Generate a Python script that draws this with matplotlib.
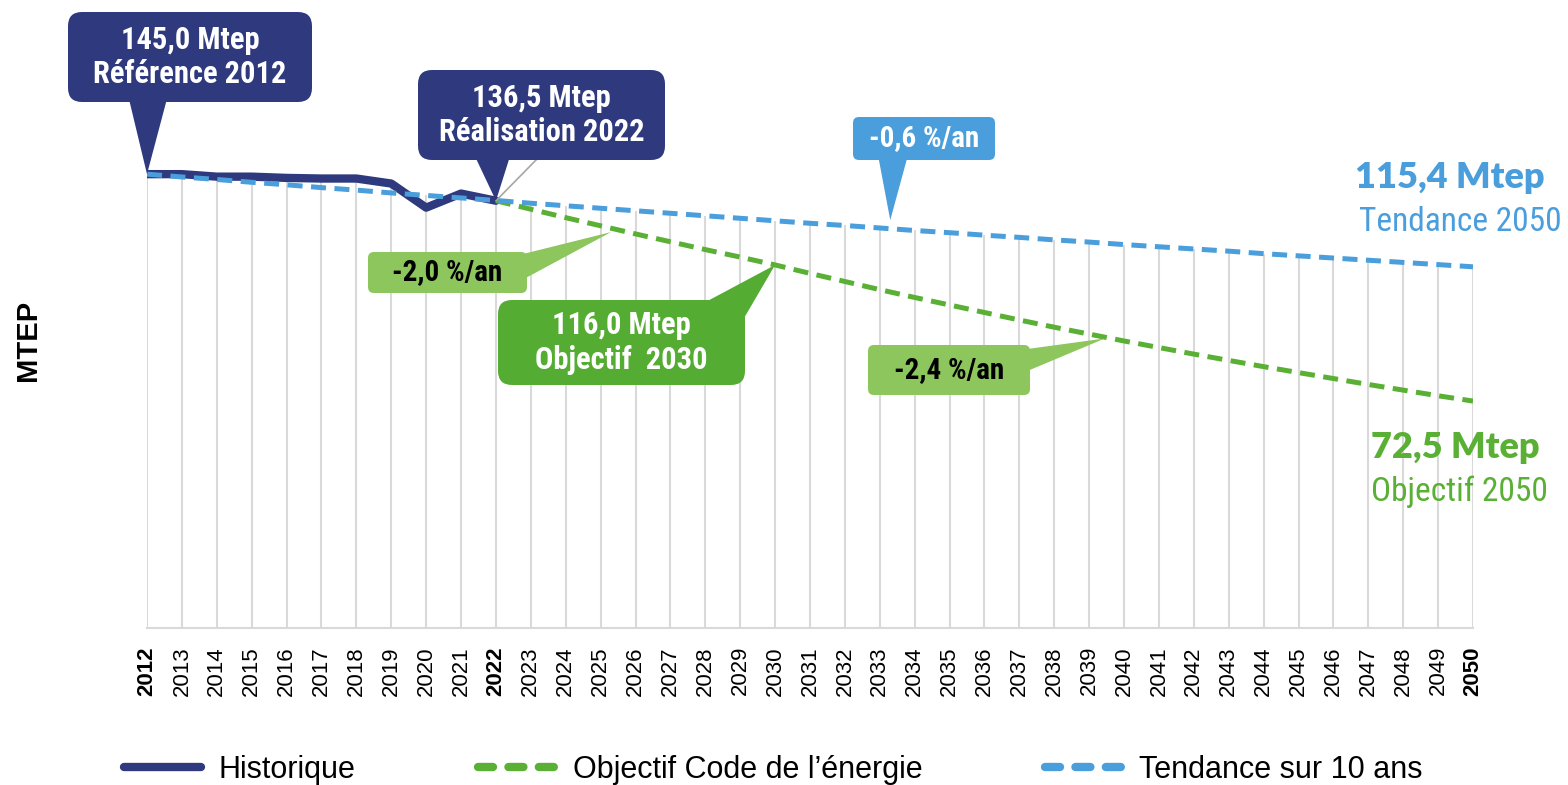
import matplotlib
matplotlib.use('Agg')
import matplotlib.pyplot as plt
from matplotlib.patches import FancyBboxPatch, Polygon
from matplotlib.lines import Line2D
from matplotlib.transforms import IdentityTransform
from matplotlib import font_manager

# data (Mtep)
years = list(range(2012, 2051))
hist_years = list(range(2012, 2023))
hist_vals = [145.0, 145.0, 144.2, 144.2, 143.8, 143.6, 143.6, 142.0, 134.3, 138.8, 136.5]
trend_vals = [145.0, 144.1, 143.3, 142.4, 141.6, 140.7, 139.9, 139.0, 138.2, 137.4,
              136.6, 135.7, 134.9, 134.1, 133.3, 132.5, 131.7, 130.9, 130.1, 129.3,
              128.6, 127.8, 127.0, 126.3, 125.5, 124.8, 124.0, 123.3, 122.5, 121.8,
              121.1, 120.4, 119.6, 118.9, 118.2, 117.5, 116.8, 116.1, 115.4]
obj_years = list(range(2022, 2051))
obj_vals = [136.5, 133.8, 131.1, 128.5, 125.9, 123.4, 120.9, 118.5, 116.0, 113.3,
            110.7, 108.1, 105.6, 103.2, 100.8, 98.4, 96.1, 93.9, 91.7, 89.6,
            87.5, 85.5, 83.5, 81.6, 79.7, 77.8, 76.0, 74.2, 72.5]
bold_years = [2012, 2022, 2050]
legend_labels = ['Historique', 'Objectif Code de l\u2019énergie', 'Tendance sur 10 ans']

NAVY = '#2E3A7D'
BLUE = '#4A9EDB'
GREEN = '#5AB034'
LGREEN = '#8CC65C'
DGREEN = '#55AC33'
GRID = '#D9D9D9'

names = {f.name for f in font_manager.fontManager.ttflist}
COND = 'Roboto'
for cand in ['Roboto Condensed', 'Liberation Sans Narrow']:
    if cand in names:
        COND = cand
        break

plt.rcParams['font.family'] = ['Liberation Sans', 'DejaVu Sans']

W, H = 1568, 785
fig = plt.figure(figsize=(W / 100, H / 100), dpi=100)
ax = fig.add_axes([147 / W, 1 - 628 / H, (1473 - 147) / W, 626 / H])
ax.set_xlim(2012, 2050)
ax.set_ylim(0, 200)

# drop lines
tops = []
for i, y in enumerate(years):
    v = trend_vals[i]
    if y in hist_years:
        v = max(v, hist_vals[hist_years.index(y)])
    tops.append(v)
ax.vlines(years, 0, tops, color=GRID, lw=1.5, zorder=1)

ax.plot(hist_years, hist_vals, color=NAVY, lw=6, zorder=3, solid_capstyle='round')
ax.plot(obj_years, obj_vals, color=GREEN, lw=3.6, dashes=(3, 1.7), zorder=4)
ax.plot(years, trend_vals, color=BLUE, lw=3.6, dashes=(3, 1.7), zorder=5)

ax.set_xticks(years)
ax.set_xticklabels([str(y) for y in years], rotation=90, fontsize=16)
for lab, y in zip(ax.get_xticklabels(), years):
    if y in bold_years:
        lab.set_fontweight('bold')
ax.tick_params(axis='x', length=0, pad=13)
ax.set_yticks([])
for s in ['left', 'top', 'right']:
    ax.spines[s].set_visible(False)
ax.spines['bottom'].set_color(GRID)
ax.spines['bottom'].set_linewidth(1.5)

fig.text(28 / W, 1 - 340 / H, 'MTEP', rotation=90, fontsize=21, fontweight='bold',
         ha='center', va='center')


def callout(text, x0, y0, x1, y1, base, tip, fc, tc, fs, r=14):
    box = FancyBboxPatch((x0, H - y1), x1 - x0, y1 - y0,
                         boxstyle=f'round,pad=0,rounding_size={r}',
                         fc=fc, ec='none', transform=IdentityTransform(), zorder=10)
    fig.add_artist(box)
    tx, ty = ax.transData.transform(tip)
    tri = Polygon([(base[0][0], H - base[0][1]), (base[1][0], H - base[1][1]), (tx, ty)],
                  closed=True, fc=fc, ec='none', transform=IdentityTransform(), zorder=10)
    fig.add_artist(tri)
    fig.text((x0 + x1) / 2 / W, 1 - (y0 + y1) / 2 / H, text, ha='center', va='center',
             color=tc, fontsize=fs, fontweight='bold', family=COND, linespacing=1.2,
             zorder=11)


callout('145,0 Mtep\nRéférence 2012', 68, 12, 312, 102, [(128, 95), (168, 95)],
        (2012, 145.0), NAVY, 'white', 22)
# leader line to the 2022 point
tx, ty = ax.transData.transform((2022, 136.5))
fig.add_artist(Line2D([tx, 538], [ty, H - 158], color='#A6A6A6', lw=1.2,
                      transform=IdentityTransform(), zorder=9))
callout('136,5 Mtep\nRéalisation 2022', 418, 70, 665, 160, [(472, 150), (512, 150)],
        (2022, 136.5), NAVY, 'white', 22)
callout('-0,6 %/an', 853, 117, 995, 160, [(878, 155), (908, 155)],
        (2033.3, 130.3), BLUE, 'white', 21, r=6)
callout('-2,0 %/an', 368, 252, 527, 293, [(515, 256), (522, 280)],
        (2025.3, 126.5), LGREEN, 'black', 21, r=6)
callout('116,0 Mtep\nObjectif  2030', 498, 300, 745, 385, [(700, 305), (740, 325)],
        (2030, 116.0), DGREEN, 'white', 22)
callout('-2,4 %/an', 868, 345, 1030, 395, [(1020, 350), (1025, 372)],
        (2039.45, 92.5), LGREEN, 'black', 21, r=6)

# end labels
fig.text(1545 / W, 1 - 178 / H, '115,4 Mtep', ha='right', va='center', color=BLUE,
         fontsize=26, fontweight='heavy', family='Lato')
fig.text(1562 / W, 1 - 222 / H, 'Tendance 2050', ha='right', va='center', color=BLUE,
         fontsize=24, family=COND)
fig.text(1540 / W, 1 - 448 / H, '72,5 Mtep', ha='right', va='center', color=GREEN,
         fontsize=26, fontweight='heavy', family='Lato')
fig.text(1548 / W, 1 - 492 / H, 'Objectif 2050', ha='right', va='center', color=GREEN,
         fontsize=24, family=COND)

handles = [Line2D([], [], color=NAVY, lw=6, solid_capstyle='round'),
           Line2D([], [], color=GREEN, lw=6, dashes=(1.8, 1.85), dash_capstyle='round'),
           Line2D([], [], color=BLUE, lw=6, dashes=(1.8, 1.85), dash_capstyle='round')]
fig.legend(handles, legend_labels, loc='center', bbox_to_anchor=(0.4933, 1 - 770 / H),
           ncol=3, frameon=False, fontsize=22, handlelength=2.5, handletextpad=0.6,
           columnspacing=4.0)

fig.savefig('out.png', dpi=100)
